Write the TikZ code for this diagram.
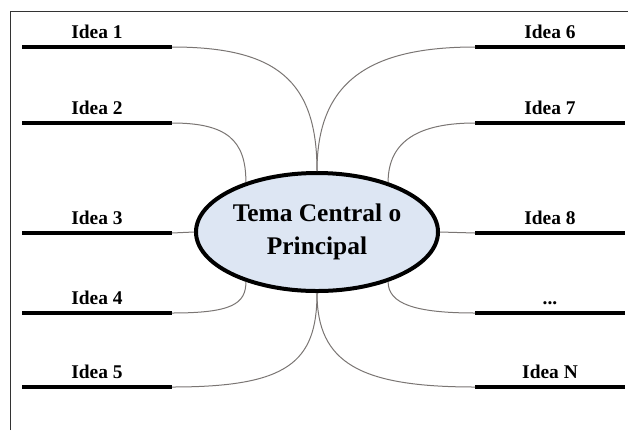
\documentclass[tikz,border=0pt]{standalone}
\usepackage{fontspec}
\setmainfont{Liberation Serif}
\usetikzlibrary{shapes.geometric}
\definecolor{temafill}{HTML}{DDE6F3}
\definecolor{linkgray}{HTML}{7A7573}
\newcommand{\ideadots}{...}
\tikzset{
    bar/.style={line width=4bp, black},
    link/.style={line width=1bp, linkgray},
    ideafont/.style={font=\fontsize{19.5}{21}\selectfont\bfseries},
}

\begin{document}
\begin{tikzpicture}[x=1bp, y=-1bp]

    \useasboundingbox (0,0) rectangle (628,430);

    % Frame
    \draw[line width=1bp, black!80] (10,430) -- (10,11) -- (628,11);

    % Central topic
    \node[ellipse, draw, line width=4bp, fill=temafill, inner sep=0pt,
          minimum width=242bp, minimum height=118bp, align=center,
          font=\fontsize{25.5}{33}\selectfont\bfseries]
        (tema) at (317,232) {Tema Central o\\Principal};

    % Left ideas
    \foreach \i/\y/\t in {1/47/Idea 1, 2/123/Idea 2, 3/233/Idea 3, 4/313/Idea 4, 5/387/Idea 5}
    {
        \coordinate (l\i a) at (22,\y);
        \coordinate (l\i) at (172,\y);
        \draw[bar] (l\i a) -- (l\i) node[midway, anchor=base, yshift=9bp, ideafont]{\t};
    }

    % Right ideas
    \foreach \i/\y/\t in {1/47/Idea 6, 2/123/Idea 7, 3/233/Idea 8, 4/313/\ideadots, 5/387/Idea N}
    {
        \coordinate (r\i) at (475,\y);
        \coordinate (r\i a) at (625,\y);
        \draw[bar] (r\i) -- (r\i a) node[midway, anchor=base, yshift=9bp, ideafont]{\t};
    }

    % Links, left side
    \draw[link] (l1) .. controls +(105,0) and +(0,-90) .. (tema.north);
    \draw[link] (l2) .. controls +(55,0) and +(0,-42) .. (tema.145);
    \draw[link] (l3) -- (tema.west);
    \draw[link] (l4) .. controls +(60,0) and +(0,22) .. (tema.215);
    \draw[link] (l5) .. controls +(115,0) and +(0,70) .. (tema.south);

    % Links, right side
    \draw[link] (r1) .. controls +(-105,0) and +(0,-90) .. (tema.north);
    \draw[link] (r2) .. controls +(-55,0) and +(0,-42) .. (tema.35);
    \draw[link] (r3) -- (tema.east);
    \draw[link] (r4) .. controls +(-60,0) and +(0,22) .. (tema.325);
    \draw[link] (r5) .. controls +(-115,0) and +(0,70) .. (tema.south);

\end{tikzpicture}
\end{document}
